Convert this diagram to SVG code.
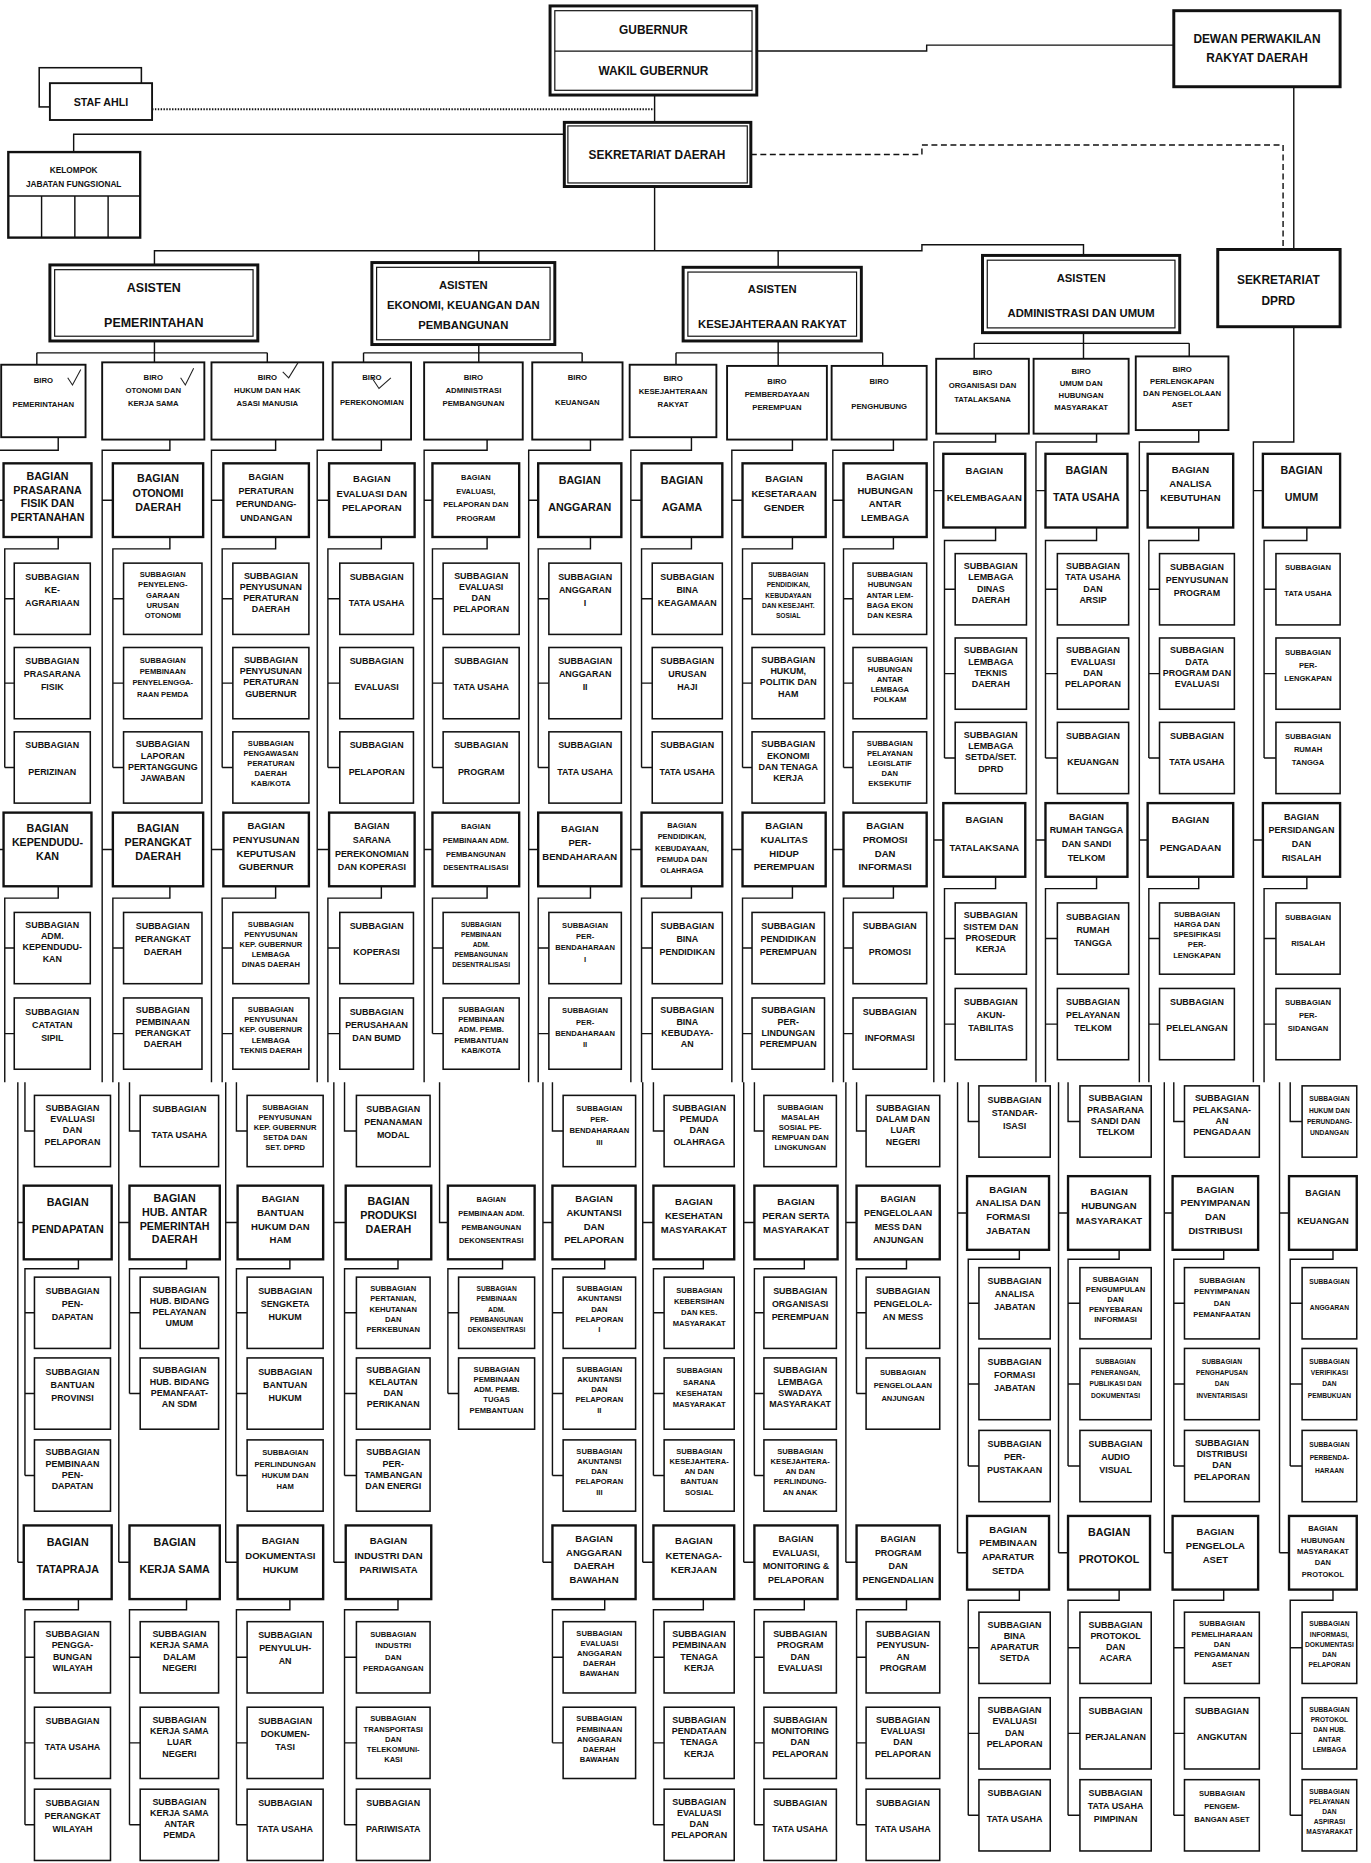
<svg xmlns="http://www.w3.org/2000/svg" width="1371" height="1863" viewBox="0 0 1371 1863">
<style>
text{font-family:"Liberation Sans Narrow","Liberation Sans",Arial,sans-serif;font-weight:bold;fill:#111;text-anchor:middle}
.t{font-size:10px}.a{font-size:10.5px}.a2{font-size:9.5px}.k{font-size:7px}.k9{font-size:9px}.r{font-size:6.5px}
.b{font-size:9px}.b8{font-size:8px}.b7{font-size:7.5px}.b6{font-size:6.3px}
.s{font-size:7.5px}.s5{font-size:6.4px}.s4{font-size:5.6px}
.dbl{fill:#fff;stroke:#111;stroke-width:2.5}
.th{fill:none;stroke:#111;stroke-width:1}
.bg{fill:#fff;stroke:#111;stroke-width:2}
.sb{fill:#fff;stroke:#111;stroke-width:1.3}
.br{fill:#fff;stroke:#111;stroke-width:1.6}
.ln{fill:none;stroke:#111;stroke-width:1.2}
.dot{fill:none;stroke:#111;stroke-width:1.6;stroke-dasharray:1.2 1.2}
.dash{fill:none;stroke:#111;stroke-width:1.2;stroke-dasharray:5 3}
.mk{fill:none;stroke:#222;stroke-width:0.9}
</style>
<rect x="0" y="0" width="1371" height="1863" fill="#fff"/>
<g transform="scale(1.18804)">
<g id="connectors">
<path class="ln" d="M637,43H780V38H988M551,80V103M475,113H62V128M1089,73V210M551,157V211M130,223V211H776V206H912V215M403,211V221M655,211V225"/>
<path class="ln" d="M130,287V305M31,297H225M31,297V307M225,297V305M403,290V305M306,297H490M306,297V305M490,297V305M655,287V308M569,297H743M569,297V307M743,297V308M912,280V302M820,289H1001M820,289V302M1001,289V300"/>
<path class="dot" d="M128,92H551"/>
<path class="dash" d="M632,130H776V122H1080V210"/>
<path class="ln" d="M49,368V379H-2V911M-2,421H3M-2,715H3M15,911V1315M15,1029H20M15,1315H20M49,452V462H4V646M4,504H12M4,575H12M4,646H12M49,746V756H4V911M4,798H12M4,870H12M21,911V952H29M66,1060V1068H21V1242M21,1105H29M21,1173H29M21,1242H29M66,1346V1355H21V1536M21,1395H29M21,1467H29M21,1536H29"/>
<path class="ln" d="M143,370V379H86V911M86,421H95M86,715H95M100,911V1315M100,1029H109M100,1315H109M143,452V462H95V646M95,504H104M95,575H104M95,646H104M143,746V756H95V911M95,798H104M95,870H104M109,911V952H118M157,1060V1068H109V1173M109,1105H118M109,1173H118M157,1346V1355H109V1536M109,1395H118M109,1467H118M109,1536H118"/>
<path class="ln" d="M232,370V379H178V911M178,421H188M178,715H188M190,911V1315M190,1029H200M190,1315H200M232,452V462H187V646M187,504H196M187,575H196M187,646H196M232,746V756H187V911M187,798H196M187,870H196M199,911V952H208M244,1060V1068H199V1242M199,1105H208M199,1173H208M199,1242H208M244,1346V1355H199V1536M199,1395H208M199,1467H208M199,1536H208"/>
<path class="ln" d="M321,370V379H267V911M267,421H277M267,715H277M281,911V1315M281,1029H291M281,1315H291M321,452V462H276V646M276,504H286M276,575H286M276,646H286M321,746V756H276V911M276,798H286M276,870H286M290,911V952H300M335,1060V1068H290V1242M290,1105H300M290,1173H300M290,1242H300M335,1346V1355H290V1536M290,1395H300M290,1467H300M290,1536H300"/>
<path class="ln" d="M410,370V379H357V911M357,421H364M357,715H364M370,911V1029H377M410,452V462H364V646M364,504H373M364,575H373M364,646H373M410,746V756H364V870M364,798H373M364,870H373M423,1060V1068H377V1173M377,1105H386M377,1173H386"/>
<path class="ln" d="M497,370V379H445V911M445,421H453M445,715H453M457,911V1315M457,1029H465M457,1315H465M497,452V462H453V646M453,504H462M453,575H462M453,646H462M497,746V756H453V911M453,798H462M453,870H462M465,911V952H474M509,1060V1068H465V1242M465,1105H474M465,1173H474M465,1242H474M509,1346V1355H465V1467M465,1395H474M465,1467H474"/>
<path class="ln" d="M582,368V379H531V911M531,421H540M531,715H540M541,911V1315M541,1029H550M541,1315H550M582,452V462H540V646M540,504H549M540,575H549M540,646H549M582,746V756H540V911M540,798H549M540,870H549M550,911V952H559M592,1060V1068H550V1242M550,1105H559M550,1173H559M550,1242H559M592,1346V1355H550V1536M550,1395H559M550,1467H559M550,1536H559"/>
<path class="ln" d="M667,370V379H616V911M616,421H625M616,715H625M626,911V1315M626,1029H635M626,1315H635M667,452V462H625V646M625,504H633M625,575H633M625,646H633M667,746V756H625V911M625,798H633M625,870H633M635,911V952H643M677,1060V1068H635V1242M635,1105H643M635,1173H643M635,1242H643M677,1346V1355H635V1536M635,1395H643M635,1467H643M635,1536H643"/>
<path class="ln" d="M752,370V379H701V911M701,421H710M701,715H710M712,911V1315M712,1029H721M712,1315H721M752,452V462H710V646M710,504H718M710,575H718M710,646H718M752,746V756H710V911M710,798H718M710,870H718M721,911V952H729M763,1060V1068H721V1173M721,1105H729M721,1173H729M763,1346V1355H721V1536M721,1395H729M721,1467H729M721,1536H729"/>
<path class="ln" d="M838,365V372H786V911M786,413H794M786,707H794M806,911V1307M806,1021H814M806,1307H814M838,444V455H795V638M795,496H804M795,567H804M795,638H804M838,738V748H795V911M795,790H804M795,862H804M815,911V944H824M858,1052V1060H815V1234M815,1097H824M815,1165H824M815,1234H824M858,1338V1347H815V1528M815,1387H824M815,1459H824M815,1528H824"/>
<path class="ln" d="M923,365V372H872V911M872,413H880M872,707H880M891,911V1307M891,1021H899M891,1307H899M923,444V455H880V638M880,496H890M880,567H890M880,638H890M923,738V748H880V911M880,790H890M880,862H890M899,911V944H909M942,1052V1060H899V1234M899,1097H909M899,1165H909M899,1234H909M942,1338V1347H899V1528M899,1387H909M899,1459H909M899,1528H909"/>
<path class="ln" d="M1009,362V372H959V911M959,413H966M959,707H966M980,911V1307M980,1021H987M980,1307H987M1009,444V455H967V638M967,496H976M967,567H976M967,638H976M1009,738V748H967V911M967,790H976M967,862H976M988,911V944H997M1030,1052V1060H988V1234M988,1097H997M988,1165H997M988,1234H997M1030,1338V1347H988V1528M988,1387H997M988,1459H997M988,1528H997"/>
<path class="ln" d="M1089,275V372H1055V911M1055,413H1063M1055,707H1063M1077,911V1307M1077,1021H1085M1077,1307H1085M1100,444V455H1064V638M1064,496H1074M1064,567H1074M1064,638H1074M1100,738V748H1064V911M1064,790H1074M1064,862H1074M1086,911V944H1096M1122,1052V1060H1086V1234M1086,1097H1096M1086,1165H1096M1086,1234H1096M1122,1338V1347H1086V1528M1086,1387H1096M1086,1459H1096M1086,1528H1096"/>
</g>
<g id="gubernur"><rect class="dbl" x="463" y="5" width="174" height="75"/><rect class="th" x="467" y="9" width="166" height="67"/><line class="th" x1="467" y1="43" x2="633" y2="43"/><text class="t"><tspan x="550" y="29">GUBERNUR</tspan><tspan x="550" y="63">WAKIL GUBERNUR</tspan></text></g>
<g id="dprd"><rect class="dbl" x="988" y="9" width="140" height="64"/><text class="t"><tspan x="1058" y="36">DEWAN PERWAKILAN</tspan><tspan x="1058" y="52">RAKYAT DAERAH</tspan></text></g>
<g id="staf-ahli"><rect class="sb" x="33" y="57" width="86" height="33"/><rect class="br" x="42" y="70" width="86" height="31"/><text class="k9"><tspan x="85" y="89">STAF AHLI</tspan></text></g>
<g id="sekda"><rect class="dbl" x="475" y="103" width="157" height="54"/><rect class="th" x="478" y="106" width="151" height="48"/><text class="t"><tspan x="553" y="134">SEKRETARIAT DAERAH</tspan></text></g>
<g id="kelompok"><rect class="bg" x="7" y="128" width="111" height="72"/><path class="ln" d="M7,165H118M35,165V200M63,165V200M91,165V200"/><text class="k"><tspan x="62" y="146">KELOMPOK</tspan><tspan x="62" y="157">JABATAN FUNGSIONAL</tspan></text></g>
<g id="sekretariat-dprd"><rect class="dbl" x="1025" y="210" width="103" height="65"/><text class="t"><tspan x="1076" y="239">SEKRETARIAT</tspan><tspan x="1076" y="257">DPRD</tspan></text></g>
<g id="asisten-pemerintahan"><rect class="dbl" x="42" y="223" width="175" height="64"/><rect class="th" x="46" y="227" width="167" height="56"/><text class="a"><tspan x="129.5" y="246">ASISTEN</tspan><tspan x="129.5" y="275">PEMERINTAHAN</tspan></text></g>
<g id="asisten-ekonomi"><rect class="dbl" x="313" y="221" width="154" height="69"/><rect class="th" x="317" y="225" width="146" height="61"/><text class="a2"><tspan x="390" y="243">ASISTEN</tspan><tspan x="390" y="260">EKONOMI, KEUANGAN DAN</tspan><tspan x="390" y="277">PEMBANGUNAN</tspan></text></g>
<g id="asisten-kesra"><rect class="dbl" x="575" y="225" width="150" height="62"/><rect class="th" x="579" y="229" width="142" height="54"/><text class="a2"><tspan x="650" y="247">ASISTEN</tspan><tspan x="650" y="276">KESEJAHTERAAN RAKYAT</tspan></text></g>
<g id="asisten-administrasi"><rect class="dbl" x="827" y="215" width="166" height="65"/><rect class="th" x="831" y="219" width="158" height="57"/><text class="a2"><tspan x="910" y="237">ASISTEN</tspan><tspan x="910" y="267">ADMINISTRASI DAN UMUM</tspan></text></g>
<g id="biro-1"><rect class="br" x="1" y="307" width="71" height="61"/><text class="r"><tspan x="36.5" y="322">BIRO</tspan><tspan x="36.5" y="343">PEMERINTAHAN</tspan></text></g>
<g id="biro-2"><rect class="br" x="86" y="305" width="86" height="65"/><text class="r"><tspan x="129" y="320">BIRO</tspan><tspan x="129" y="331">OTONOMI DAN</tspan><tspan x="129" y="342">KERJA SAMA</tspan></text></g>
<g id="biro-3"><rect class="br" x="178" y="305" width="94" height="65"/><text class="r"><tspan x="225" y="320">BIRO</tspan><tspan x="225" y="331">HUKUM DAN HAK</tspan><tspan x="225" y="342">ASASI MANUSIA</tspan></text></g>
<g id="biro-4"><rect class="br" x="280" y="305" width="66" height="65"/><text class="r"><tspan x="313" y="320">BIRO</tspan><tspan x="313" y="341">PEREKONOMIAN</tspan></text></g>
<g id="biro-5"><rect class="br" x="357" y="305" width="83" height="65"/><text class="r"><tspan x="398.5" y="320">BIRO</tspan><tspan x="398.5" y="331">ADMINISTRASI</tspan><tspan x="398.5" y="342">PEMBANGUNAN</tspan></text></g>
<g id="biro-6"><rect class="br" x="448" y="305" width="76" height="65"/><text class="r"><tspan x="486" y="320">BIRO</tspan><tspan x="486" y="341">KEUANGAN</tspan></text></g>
<g id="biro-7"><rect class="br" x="530" y="307" width="73" height="61"/><text class="r"><tspan x="566.5" y="321">BIRO</tspan><tspan x="566.5" y="332">KESEJAHTERAAN</tspan><tspan x="566.5" y="343">RAKYAT</tspan></text></g>
<g id="biro-8"><rect class="br" x="612" y="308" width="84" height="62"/><text class="r"><tspan x="654" y="323">BIRO</tspan><tspan x="654" y="334">PEMBERDAYAAN</tspan><tspan x="654" y="345">PEREMPUAN</tspan></text></g>
<g id="biro-9"><rect class="br" x="700" y="308" width="80" height="62"/><text class="r"><tspan x="740" y="323">BIRO</tspan><tspan x="740" y="344">PENGHUBUNG</tspan></text></g>
<g id="biro-10"><rect class="br" x="788" y="302" width="78" height="63"/><text class="r"><tspan x="827" y="316">BIRO</tspan><tspan x="827" y="327">ORGANISASI DAN</tspan><tspan x="827" y="338">TATALAKSANA</tspan></text></g>
<g id="biro-11"><rect class="br" x="870" y="302" width="80" height="63"/><text class="r"><tspan x="910" y="315">BIRO</tspan><tspan x="910" y="325">UMUM DAN</tspan><tspan x="910" y="335">HUBUNGAN</tspan><tspan x="910" y="345">MASYARAKAT</tspan></text></g>
<g id="biro-12"><rect class="br" x="956" y="300" width="78" height="62"/><text class="r"><tspan x="995" y="313">BIRO</tspan><tspan x="995" y="323">PERLENGKAPAN</tspan><tspan x="995" y="333">DAN PENGELOLAAN</tspan><tspan x="995" y="343">ASET</tspan></text></g>
<g id="marks"><path class="mk" d="M57,318l4,6l7,-13M152,318l4,6l7,-14M238,313l5,5l8,-13M313,318l6,9l10,-9"/></g>

<g id="c1-bag-a"><rect class="bg" x="3" y="390" width="74" height="62"/><text class="b"><tspan x="40" y="404">BAGIAN</tspan><tspan x="40" y="415.5">PRASARANA</tspan><tspan x="40" y="427">FISIK DAN</tspan><tspan x="40" y="438.5">PERTANAHAN</tspan></text></g>
<g id="c1-a1"><rect class="sb" x="12" y="474" width="64" height="60"/><text class="s"><tspan x="44" y="488">SUBBAGIAN</tspan><tspan x="44" y="499">KE-</tspan><tspan x="44" y="510">AGRARIAAN</tspan></text></g>
<g id="c1-a2"><rect class="sb" x="12" y="545" width="64" height="60"/><text class="s"><tspan x="44" y="559">SUBBAGIAN</tspan><tspan x="44" y="570">PRASARANA</tspan><tspan x="44" y="581">FISIK</tspan></text></g>
<g id="c1-a3"><rect class="sb" x="12" y="616" width="64" height="60"/><text class="s"><tspan x="44" y="630">SUBBAGIAN</tspan><tspan x="44" y="652">PERIZINAN</tspan></text></g>
<g id="c1-bag-b"><rect class="bg" x="3" y="684" width="74" height="62"/><text class="b"><tspan x="40" y="700">BAGIAN</tspan><tspan x="40" y="712">KEPENDUDU-</tspan><tspan x="40" y="724">KAN</tspan></text></g>
<g id="c1-b1"><rect class="sb" x="12" y="768" width="64" height="60"/><text class="s"><tspan x="44" y="781">SUBBAGIAN</tspan><tspan x="44" y="790.5">ADM.</tspan><tspan x="44" y="800">KEPENDUDU-</tspan><tspan x="44" y="809.5">KAN</tspan></text></g>
<g id="c1-b2"><rect class="sb" x="12" y="840" width="64" height="60"/><text class="s"><tspan x="44" y="854">SUBBAGIAN</tspan><tspan x="44" y="865">CATATAN</tspan><tspan x="44" y="876">SIPIL</tspan></text></g>
<g id="c1-b3"><rect class="sb" x="29" y="922" width="64" height="60"/><text class="s"><tspan x="61" y="935">SUBBAGIAN</tspan><tspan x="61" y="944.5">EVALUASI</tspan><tspan x="61" y="954">DAN</tspan><tspan x="61" y="963.5">PELAPORAN</tspan></text></g>
<g id="c1-bag-c"><rect class="bg" x="20" y="998" width="74" height="62"/><text class="b"><tspan x="57" y="1015">BAGIAN</tspan><tspan x="57" y="1038">PENDAPATAN</tspan></text></g>
<g id="c1-c1"><rect class="sb" x="29" y="1075" width="64" height="60"/><text class="s"><tspan x="61" y="1089">SUBBAGIAN</tspan><tspan x="61" y="1100">PEN-</tspan><tspan x="61" y="1111">DAPATAN</tspan></text></g>
<g id="c1-c2"><rect class="sb" x="29" y="1143" width="64" height="60"/><text class="s"><tspan x="61" y="1157">SUBBAGIAN</tspan><tspan x="61" y="1168">BANTUAN</tspan><tspan x="61" y="1179">PROVINSI</tspan></text></g>
<g id="c1-c3"><rect class="sb" x="29" y="1212" width="64" height="60"/><text class="s"><tspan x="61" y="1225">SUBBAGIAN</tspan><tspan x="61" y="1234.5">PEMBINAAN</tspan><tspan x="61" y="1244">PEN-</tspan><tspan x="61" y="1253.5">DAPATAN</tspan></text></g>
<g id="c1-bag-d"><rect class="bg" x="20" y="1284" width="74" height="62"/><text class="b"><tspan x="57" y="1301">BAGIAN</tspan><tspan x="57" y="1324">TATAPRAJA</tspan></text></g>
<g id="c1-d1"><rect class="sb" x="29" y="1365" width="64" height="60"/><text class="s"><tspan x="61" y="1378">SUBBAGIAN</tspan><tspan x="61" y="1387.5">PENGGA-</tspan><tspan x="61" y="1397">BUNGAN</tspan><tspan x="61" y="1406.5">WILAYAH</tspan></text></g>
<g id="c1-d2"><rect class="sb" x="29" y="1437" width="64" height="60"/><text class="s"><tspan x="61" y="1451">SUBBAGIAN</tspan><tspan x="61" y="1473">TATA USAHA</tspan></text></g>
<g id="c1-d3"><rect class="sb" x="29" y="1506" width="64" height="60"/><text class="s"><tspan x="61" y="1520">SUBBAGIAN</tspan><tspan x="61" y="1531">PERANGKAT</tspan><tspan x="61" y="1542">WILAYAH</tspan></text></g>

<g id="c2-bag-a"><rect class="bg" x="95" y="390" width="76" height="62"/><text class="b"><tspan x="133" y="406">BAGIAN</tspan><tspan x="133" y="418">OTONOMI</tspan><tspan x="133" y="430">DAERAH</tspan></text></g>
<g id="c2-a1"><rect class="sb" x="104" y="474" width="66" height="60"/><text class="s5"><tspan x="137" y="486">SUBBAGIAN</tspan><tspan x="137" y="494.5">PENYELENG-</tspan><tspan x="137" y="503">GARAAN</tspan><tspan x="137" y="511.5">URUSAN</tspan><tspan x="137" y="520">OTONOMI</tspan></text></g>
<g id="c2-a2"><rect class="sb" x="104" y="545" width="66" height="60"/><text class="s5"><tspan x="137" y="558">SUBBAGIAN</tspan><tspan x="137" y="567.5">PEMBINAAN</tspan><tspan x="137" y="577">PENYELENGGA-</tspan><tspan x="137" y="586.5">RAAN PEMDA</tspan></text></g>
<g id="c2-a3"><rect class="sb" x="104" y="616" width="66" height="60"/><text class="s"><tspan x="137" y="629">SUBBAGIAN</tspan><tspan x="137" y="638.5">LAPORAN</tspan><tspan x="137" y="648">PERTANGGUNG</tspan><tspan x="137" y="657.5">JAWABAN</tspan></text></g>
<g id="c2-bag-b"><rect class="bg" x="95" y="684" width="76" height="62"/><text class="b"><tspan x="133" y="700">BAGIAN</tspan><tspan x="133" y="712">PERANGKAT</tspan><tspan x="133" y="724">DAERAH</tspan></text></g>
<g id="c2-b1"><rect class="sb" x="104" y="768" width="66" height="60"/><text class="s"><tspan x="137" y="782">SUBBAGIAN</tspan><tspan x="137" y="793">PERANGKAT</tspan><tspan x="137" y="804">DAERAH</tspan></text></g>
<g id="c2-b2"><rect class="sb" x="104" y="840" width="66" height="60"/><text class="s"><tspan x="137" y="853">SUBBAGIAN</tspan><tspan x="137" y="862.5">PEMBINAAN</tspan><tspan x="137" y="872">PERANGKAT</tspan><tspan x="137" y="881.5">DAERAH</tspan></text></g>
<g id="c2-b3"><rect class="sb" x="118" y="922" width="66" height="60"/><text class="s"><tspan x="151" y="936">SUBBAGIAN</tspan><tspan x="151" y="958">TATA USAHA</tspan></text></g>
<g id="c2-bag-c"><rect class="bg" x="109" y="998" width="76" height="62"/><text class="b"><tspan x="147" y="1012">BAGIAN</tspan><tspan x="147" y="1023.5">HUB. ANTAR</tspan><tspan x="147" y="1035">PEMERINTAH</tspan><tspan x="147" y="1046.5">DAERAH</tspan></text></g>
<g id="c2-c1"><rect class="sb" x="118" y="1075" width="66" height="60"/><text class="s"><tspan x="151" y="1088">SUBBAGIAN</tspan><tspan x="151" y="1097.5">HUB. BIDANG</tspan><tspan x="151" y="1107">PELAYANAN</tspan><tspan x="151" y="1116.5">UMUM</tspan></text></g>
<g id="c2-c2"><rect class="sb" x="118" y="1143" width="66" height="60"/><text class="s"><tspan x="151" y="1156">SUBBAGIAN</tspan><tspan x="151" y="1165.5">HUB. BIDANG</tspan><tspan x="151" y="1175">PEMANFAAT-</tspan><tspan x="151" y="1184.5">AN SDM</tspan></text></g>
<g id="c2-bag-d"><rect class="bg" x="109" y="1284" width="76" height="62"/><text class="b"><tspan x="147" y="1301">BAGIAN</tspan><tspan x="147" y="1324">KERJA SAMA</tspan></text></g>
<g id="c2-d1"><rect class="sb" x="118" y="1365" width="66" height="60"/><text class="s"><tspan x="151" y="1378">SUBBAGIAN</tspan><tspan x="151" y="1387.5">KERJA SAMA</tspan><tspan x="151" y="1397">DALAM</tspan><tspan x="151" y="1406.5">NEGERI</tspan></text></g>
<g id="c2-d2"><rect class="sb" x="118" y="1437" width="66" height="60"/><text class="s"><tspan x="151" y="1450">SUBBAGIAN</tspan><tspan x="151" y="1459.5">KERJA SAMA</tspan><tspan x="151" y="1469">LUAR</tspan><tspan x="151" y="1478.5">NEGERI</tspan></text></g>
<g id="c2-d3"><rect class="sb" x="118" y="1506" width="66" height="60"/><text class="s"><tspan x="151" y="1519">SUBBAGIAN</tspan><tspan x="151" y="1528.5">KERJA SAMA</tspan><tspan x="151" y="1538">ANTAR</tspan><tspan x="151" y="1547.5">PEMDA</tspan></text></g>

<g id="c3-bag-a"><rect class="bg" x="188" y="390" width="72" height="62"/><text class="b7"><tspan x="224" y="404">BAGIAN</tspan><tspan x="224" y="415.5">PERATURAN</tspan><tspan x="224" y="427">PERUNDANG-</tspan><tspan x="224" y="438.5">UNDANGAN</tspan></text></g>
<g id="c3-a1"><rect class="sb" x="196" y="474" width="64" height="60"/><text class="s"><tspan x="228" y="487">SUBBAGIAN</tspan><tspan x="228" y="496.5">PENYUSUNAN</tspan><tspan x="228" y="506">PERATURAN</tspan><tspan x="228" y="515.5">DAERAH</tspan></text></g>
<g id="c3-a2"><rect class="sb" x="196" y="545" width="64" height="60"/><text class="s"><tspan x="228" y="558">SUBBAGIAN</tspan><tspan x="228" y="567.5">PENYUSUNAN</tspan><tspan x="228" y="577">PERATURAN</tspan><tspan x="228" y="586.5">GUBERNUR</tspan></text></g>
<g id="c3-a3"><rect class="sb" x="196" y="616" width="64" height="60"/><text class="s5"><tspan x="228" y="628">SUBBAGIAN</tspan><tspan x="228" y="636.5">PENGAWASAN</tspan><tspan x="228" y="645">PERATURAN</tspan><tspan x="228" y="653.5">DAERAH</tspan><tspan x="228" y="662">KAB/KOTA</tspan></text></g>
<g id="c3-bag-b"><rect class="bg" x="188" y="684" width="72" height="62"/><text class="b8"><tspan x="224" y="698">BAGIAN</tspan><tspan x="224" y="709.5">PENYUSUNAN</tspan><tspan x="224" y="721">KEPUTUSAN</tspan><tspan x="224" y="732.5">GUBERNUR</tspan></text></g>
<g id="c3-b1"><rect class="sb" x="196" y="768" width="64" height="60"/><text class="s5"><tspan x="228" y="780">SUBBAGIAN</tspan><tspan x="228" y="788.5">PENYUSUNAN</tspan><tspan x="228" y="797">KEP. GUBERNUR</tspan><tspan x="228" y="805.5">LEMBAGA</tspan><tspan x="228" y="814">DINAS DAERAH</tspan></text></g>
<g id="c3-b2"><rect class="sb" x="196" y="840" width="64" height="60"/><text class="s5"><tspan x="228" y="852">SUBBAGIAN</tspan><tspan x="228" y="860.5">PENYUSUNAN</tspan><tspan x="228" y="869">KEP. GUBERNUR</tspan><tspan x="228" y="877.5">LEMBAGA</tspan><tspan x="228" y="886">TEKNIS DAERAH</tspan></text></g>
<g id="c3-b3"><rect class="sb" x="208" y="922" width="64" height="60"/><text class="s5"><tspan x="240" y="934">SUBBAGIAN</tspan><tspan x="240" y="942.5">PENYUSUNAN</tspan><tspan x="240" y="951">KEP. GUBERNUR</tspan><tspan x="240" y="959.5">SETDA DAN</tspan><tspan x="240" y="968">SET. DPRD</tspan></text></g>
<g id="c3-bag-c"><rect class="bg" x="200" y="998" width="72" height="62"/><text class="b8"><tspan x="236" y="1012">BAGIAN</tspan><tspan x="236" y="1023.5">BANTUAN</tspan><tspan x="236" y="1035">HUKUM DAN</tspan><tspan x="236" y="1046.5">HAM</tspan></text></g>
<g id="c3-c1"><rect class="sb" x="208" y="1075" width="64" height="60"/><text class="s"><tspan x="240" y="1089">SUBBAGIAN</tspan><tspan x="240" y="1100">SENGKETA</tspan><tspan x="240" y="1111">HUKUM</tspan></text></g>
<g id="c3-c2"><rect class="sb" x="208" y="1143" width="64" height="60"/><text class="s"><tspan x="240" y="1157">SUBBAGIAN</tspan><tspan x="240" y="1168">BANTUAN</tspan><tspan x="240" y="1179">HUKUM</tspan></text></g>
<g id="c3-c3"><rect class="sb" x="208" y="1212" width="64" height="60"/><text class="s5"><tspan x="240" y="1225">SUBBAGIAN</tspan><tspan x="240" y="1234.5">PERLINDUNGAN</tspan><tspan x="240" y="1244">HUKUM DAN</tspan><tspan x="240" y="1253.5">HAM</tspan></text></g>
<g id="c3-bag-d"><rect class="bg" x="200" y="1284" width="72" height="62"/><text class="b8"><tspan x="236" y="1300">BAGIAN</tspan><tspan x="236" y="1312">DOKUMENTASI</tspan><tspan x="236" y="1324">HUKUM</tspan></text></g>
<g id="c3-d1"><rect class="sb" x="208" y="1365" width="64" height="60"/><text class="s"><tspan x="240" y="1379">SUBBAGIAN</tspan><tspan x="240" y="1390">PENYULUH-</tspan><tspan x="240" y="1401">AN</tspan></text></g>
<g id="c3-d2"><rect class="sb" x="208" y="1437" width="64" height="60"/><text class="s"><tspan x="240" y="1451">SUBBAGIAN</tspan><tspan x="240" y="1462">DOKUMEN-</tspan><tspan x="240" y="1473">TASI</tspan></text></g>
<g id="c3-d3"><rect class="sb" x="208" y="1506" width="64" height="60"/><text class="s"><tspan x="240" y="1520">SUBBAGIAN</tspan><tspan x="240" y="1542">TATA USAHA</tspan></text></g>

<g id="c4-bag-a"><rect class="bg" x="277" y="390" width="72" height="62"/><text class="b8"><tspan x="313" y="406">BAGIAN</tspan><tspan x="313" y="418">EVALUASI DAN</tspan><tspan x="313" y="430">PELAPORAN</tspan></text></g>
<g id="c4-a1"><rect class="sb" x="286" y="474" width="62" height="60"/><text class="s"><tspan x="317" y="488">SUBBAGIAN</tspan><tspan x="317" y="510">TATA USAHA</tspan></text></g>
<g id="c4-a2"><rect class="sb" x="286" y="545" width="62" height="60"/><text class="s"><tspan x="317" y="559">SUBBAGIAN</tspan><tspan x="317" y="581">EVALUASI</tspan></text></g>
<g id="c4-a3"><rect class="sb" x="286" y="616" width="62" height="60"/><text class="s"><tspan x="317" y="630">SUBBAGIAN</tspan><tspan x="317" y="652">PELAPORAN</tspan></text></g>
<g id="c4-bag-b"><rect class="bg" x="277" y="684" width="72" height="62"/><text class="b7"><tspan x="313" y="698">BAGIAN</tspan><tspan x="313" y="709.5">SARANA</tspan><tspan x="313" y="721">PEREKONOMIAN</tspan><tspan x="313" y="732.5">DAN KOPERASI</tspan></text></g>
<g id="c4-b1"><rect class="sb" x="286" y="768" width="62" height="60"/><text class="s"><tspan x="317" y="782">SUBBAGIAN</tspan><tspan x="317" y="804">KOPERASI</tspan></text></g>
<g id="c4-b2"><rect class="sb" x="286" y="840" width="62" height="60"/><text class="s"><tspan x="317" y="854">SUBBAGIAN</tspan><tspan x="317" y="865">PERUSAHAAN</tspan><tspan x="317" y="876">DAN BUMD</tspan></text></g>
<g id="c4-b3"><rect class="sb" x="300" y="922" width="62" height="60"/><text class="s"><tspan x="331" y="936">SUBBAGIAN</tspan><tspan x="331" y="947">PENANAMAN</tspan><tspan x="331" y="958">MODAL</tspan></text></g>
<g id="c4-bag-c"><rect class="bg" x="291" y="998" width="72" height="62"/><text class="b"><tspan x="327" y="1014">BAGIAN</tspan><tspan x="327" y="1026">PRODUKSI</tspan><tspan x="327" y="1038">DAERAH</tspan></text></g>
<g id="c4-c1"><rect class="sb" x="300" y="1075" width="62" height="60"/><text class="s5"><tspan x="331" y="1087">SUBBAGIAN</tspan><tspan x="331" y="1095.5">PERTANIAN,</tspan><tspan x="331" y="1104">KEHUTANAN</tspan><tspan x="331" y="1112.5">DAN</tspan><tspan x="331" y="1121">PERKEBUNAN</tspan></text></g>
<g id="c4-c2"><rect class="sb" x="300" y="1143" width="62" height="60"/><text class="s"><tspan x="331" y="1156">SUBBAGIAN</tspan><tspan x="331" y="1165.5">KELAUTAN</tspan><tspan x="331" y="1175">DAN</tspan><tspan x="331" y="1184.5">PERIKANAN</tspan></text></g>
<g id="c4-c3"><rect class="sb" x="300" y="1212" width="62" height="60"/><text class="s"><tspan x="331" y="1225">SUBBAGIAN</tspan><tspan x="331" y="1234.5">PER-</tspan><tspan x="331" y="1244">TAMBANGAN</tspan><tspan x="331" y="1253.5">DAN ENERGI</tspan></text></g>
<g id="c4-bag-d"><rect class="bg" x="291" y="1284" width="72" height="62"/><text class="b8"><tspan x="327" y="1300">BAGIAN</tspan><tspan x="327" y="1312">INDUSTRI DAN</tspan><tspan x="327" y="1324">PARIWISATA</tspan></text></g>
<g id="c4-d1"><rect class="sb" x="300" y="1365" width="62" height="60"/><text class="s5"><tspan x="331" y="1378">SUBBAGIAN</tspan><tspan x="331" y="1387.5">INDUSTRI</tspan><tspan x="331" y="1397">DAN</tspan><tspan x="331" y="1406.5">PERDAGANGAN</tspan></text></g>
<g id="c4-d2"><rect class="sb" x="300" y="1437" width="62" height="60"/><text class="s5"><tspan x="331" y="1449">SUBBAGIAN</tspan><tspan x="331" y="1457.5">TRANSPORTASI</tspan><tspan x="331" y="1466">DAN</tspan><tspan x="331" y="1474.5">TELEKOMUNI-</tspan><tspan x="331" y="1483">KASI</tspan></text></g>
<g id="c4-d3"><rect class="sb" x="300" y="1506" width="62" height="60"/><text class="s"><tspan x="331" y="1520">SUBBAGIAN</tspan><tspan x="331" y="1542">PARIWISATA</tspan></text></g>

<g id="c5-bag-a"><rect class="bg" x="364" y="390" width="73" height="62"/><text class="b6"><tspan x="400.5" y="404">BAGIAN</tspan><tspan x="400.5" y="415.5">EVALUASI,</tspan><tspan x="400.5" y="427">PELAPORAN DAN</tspan><tspan x="400.5" y="438.5">PROGRAM</tspan></text></g>
<g id="c5-a1"><rect class="sb" x="373" y="474" width="64" height="60"/><text class="s"><tspan x="405" y="487">SUBBAGIAN</tspan><tspan x="405" y="496.5">EVALUASI</tspan><tspan x="405" y="506">DAN</tspan><tspan x="405" y="515.5">PELAPORAN</tspan></text></g>
<g id="c5-a2"><rect class="sb" x="373" y="545" width="64" height="60"/><text class="s"><tspan x="405" y="559">SUBBAGIAN</tspan><tspan x="405" y="581">TATA USAHA</tspan></text></g>
<g id="c5-a3"><rect class="sb" x="373" y="616" width="64" height="60"/><text class="s"><tspan x="405" y="630">SUBBAGIAN</tspan><tspan x="405" y="652">PROGRAM</tspan></text></g>
<g id="c5-bag-b"><rect class="bg" x="364" y="684" width="73" height="62"/><text class="b6"><tspan x="400.5" y="698">BAGIAN</tspan><tspan x="400.5" y="709.5">PEMBINAAN ADM.</tspan><tspan x="400.5" y="721">PEMBANGUNAN</tspan><tspan x="400.5" y="732.5">DESENTRALISASI</tspan></text></g>
<g id="c5-b1"><rect class="sb" x="373" y="768" width="64" height="60"/><text class="s4"><tspan x="405" y="780">SUBBAGIAN</tspan><tspan x="405" y="788.5">PEMBINAAN</tspan><tspan x="405" y="797">ADM.</tspan><tspan x="405" y="805.5">PEMBANGUNAN</tspan><tspan x="405" y="814">DESENTRALISASI</tspan></text></g>
<g id="c5-b2"><rect class="sb" x="373" y="840" width="64" height="60"/><text class="s5"><tspan x="405" y="852">SUBBAGIAN</tspan><tspan x="405" y="860.5">PEMBINAAN</tspan><tspan x="405" y="869">ADM. PEMB.</tspan><tspan x="405" y="877.5">PEMBANTUAN</tspan><tspan x="405" y="886">KAB/KOTA</tspan></text></g>
<g id="c5-bag-c"><rect class="bg" x="377" y="998" width="73" height="62"/><text class="b6"><tspan x="413.5" y="1012">BAGIAN</tspan><tspan x="413.5" y="1023.5">PEMBINAAN ADM.</tspan><tspan x="413.5" y="1035">PEMBANGUNAN</tspan><tspan x="413.5" y="1046.5">DEKONSENTRASI</tspan></text></g>
<g id="c5-c1"><rect class="sb" x="386" y="1075" width="64" height="60"/><text class="s4"><tspan x="418" y="1087">SUBBAGIAN</tspan><tspan x="418" y="1095.5">PEMBINAAN</tspan><tspan x="418" y="1104">ADM.</tspan><tspan x="418" y="1112.5">PEMBANGUNAN</tspan><tspan x="418" y="1121">DEKONSENTRASI</tspan></text></g>
<g id="c5-c2"><rect class="sb" x="386" y="1143" width="64" height="60"/><text class="s5"><tspan x="418" y="1155">SUBBAGIAN</tspan><tspan x="418" y="1163.5">PEMBINAAN</tspan><tspan x="418" y="1172">ADM. PEMB.</tspan><tspan x="418" y="1180.5">TUGAS</tspan><tspan x="418" y="1189">PEMBANTUAN</tspan></text></g>

<g id="c6-bag-a"><rect class="bg" x="453" y="390" width="70" height="62"/><text class="b"><tspan x="488" y="407">BAGIAN</tspan><tspan x="488" y="430">ANGGARAN</tspan></text></g>
<g id="c6-a1"><rect class="sb" x="462" y="474" width="61" height="60"/><text class="s"><tspan x="492.5" y="488">SUBBAGIAN</tspan><tspan x="492.5" y="499">ANGGARAN</tspan><tspan x="492.5" y="510">I</tspan></text></g>
<g id="c6-a2"><rect class="sb" x="462" y="545" width="61" height="60"/><text class="s"><tspan x="492.5" y="559">SUBBAGIAN</tspan><tspan x="492.5" y="570">ANGGARAN</tspan><tspan x="492.5" y="581">II</tspan></text></g>
<g id="c6-a3"><rect class="sb" x="462" y="616" width="61" height="60"/><text class="s"><tspan x="492.5" y="630">SUBBAGIAN</tspan><tspan x="492.5" y="652">TATA USAHA</tspan></text></g>
<g id="c6-bag-b"><rect class="bg" x="453" y="684" width="70" height="62"/><text class="b8"><tspan x="488" y="700">BAGIAN</tspan><tspan x="488" y="712">PER-</tspan><tspan x="488" y="724">BENDAHARAAN</tspan></text></g>
<g id="c6-b1"><rect class="sb" x="462" y="768" width="61" height="60"/><text class="s5"><tspan x="492.5" y="781">SUBBAGIAN</tspan><tspan x="492.5" y="790.5">PER-</tspan><tspan x="492.5" y="800">BENDAHARAAN</tspan><tspan x="492.5" y="809.5">I</tspan></text></g>
<g id="c6-b2"><rect class="sb" x="462" y="840" width="61" height="60"/><text class="s5"><tspan x="492.5" y="853">SUBBAGIAN</tspan><tspan x="492.5" y="862.5">PER-</tspan><tspan x="492.5" y="872">BENDAHARAAN</tspan><tspan x="492.5" y="881.5">II</tspan></text></g>
<g id="c6-b3"><rect class="sb" x="474" y="922" width="61" height="60"/><text class="s5"><tspan x="504.5" y="935">SUBBAGIAN</tspan><tspan x="504.5" y="944.5">PER-</tspan><tspan x="504.5" y="954">BENDAHARAAN</tspan><tspan x="504.5" y="963.5">III</tspan></text></g>
<g id="c6-bag-c"><rect class="bg" x="465" y="998" width="70" height="62"/><text class="b8"><tspan x="500" y="1012">BAGIAN</tspan><tspan x="500" y="1023.5">AKUNTANSI</tspan><tspan x="500" y="1035">DAN</tspan><tspan x="500" y="1046.5">PELAPORAN</tspan></text></g>
<g id="c6-c1"><rect class="sb" x="474" y="1075" width="61" height="60"/><text class="s5"><tspan x="504.5" y="1087">SUBBAGIAN</tspan><tspan x="504.5" y="1095.5">AKUNTANSI</tspan><tspan x="504.5" y="1104">DAN</tspan><tspan x="504.5" y="1112.5">PELAPORAN</tspan><tspan x="504.5" y="1121">I</tspan></text></g>
<g id="c6-c2"><rect class="sb" x="474" y="1143" width="61" height="60"/><text class="s5"><tspan x="504.5" y="1155">SUBBAGIAN</tspan><tspan x="504.5" y="1163.5">AKUNTANSI</tspan><tspan x="504.5" y="1172">DAN</tspan><tspan x="504.5" y="1180.5">PELAPORAN</tspan><tspan x="504.5" y="1189">II</tspan></text></g>
<g id="c6-c3"><rect class="sb" x="474" y="1212" width="61" height="60"/><text class="s5"><tspan x="504.5" y="1224">SUBBAGIAN</tspan><tspan x="504.5" y="1232.5">AKUNTANSI</tspan><tspan x="504.5" y="1241">DAN</tspan><tspan x="504.5" y="1249.5">PELAPORAN</tspan><tspan x="504.5" y="1258">III</tspan></text></g>
<g id="c6-bag-d"><rect class="bg" x="465" y="1284" width="70" height="62"/><text class="b8"><tspan x="500" y="1298">BAGIAN</tspan><tspan x="500" y="1309.5">ANGGARAN</tspan><tspan x="500" y="1321">DAERAH</tspan><tspan x="500" y="1332.5">BAWAHAN</tspan></text></g>
<g id="c6-d1"><rect class="sb" x="474" y="1365" width="61" height="60"/><text class="s5"><tspan x="504.5" y="1377">SUBBAGIAN</tspan><tspan x="504.5" y="1385.5">EVALUASI</tspan><tspan x="504.5" y="1394">ANGGARAN</tspan><tspan x="504.5" y="1402.5">DAERAH</tspan><tspan x="504.5" y="1411">BAWAHAN</tspan></text></g>
<g id="c6-d2"><rect class="sb" x="474" y="1437" width="61" height="60"/><text class="s5"><tspan x="504.5" y="1449">SUBBAGIAN</tspan><tspan x="504.5" y="1457.5">PEMBINAAN</tspan><tspan x="504.5" y="1466">ANGGARAN</tspan><tspan x="504.5" y="1474.5">DAERAH</tspan><tspan x="504.5" y="1483">BAWAHAN</tspan></text></g>

<g id="c7-bag-a"><rect class="bg" x="540" y="390" width="68" height="62"/><text class="b"><tspan x="574" y="407">BAGIAN</tspan><tspan x="574" y="430">AGAMA</tspan></text></g>
<g id="c7-a1"><rect class="sb" x="549" y="474" width="59" height="60"/><text class="s"><tspan x="578.5" y="488">SUBBAGIAN</tspan><tspan x="578.5" y="499">BINA</tspan><tspan x="578.5" y="510">KEAGAMAAN</tspan></text></g>
<g id="c7-a2"><rect class="sb" x="549" y="545" width="59" height="60"/><text class="s"><tspan x="578.5" y="559">SUBBAGIAN</tspan><tspan x="578.5" y="570">URUSAN</tspan><tspan x="578.5" y="581">HAJI</tspan></text></g>
<g id="c7-a3"><rect class="sb" x="549" y="616" width="59" height="60"/><text class="s"><tspan x="578.5" y="630">SUBBAGIAN</tspan><tspan x="578.5" y="652">TATA USAHA</tspan></text></g>
<g id="c7-bag-b"><rect class="bg" x="540" y="684" width="68" height="62"/><text class="b6"><tspan x="574" y="697">BAGIAN</tspan><tspan x="574" y="706.5">PENDIDIKAN,</tspan><tspan x="574" y="716">KEBUDAYAAN,</tspan><tspan x="574" y="725.5">PEMUDA DAN</tspan><tspan x="574" y="735">OLAHRAGA</tspan></text></g>
<g id="c7-b1"><rect class="sb" x="549" y="768" width="59" height="60"/><text class="s"><tspan x="578.5" y="782">SUBBAGIAN</tspan><tspan x="578.5" y="793">BINA</tspan><tspan x="578.5" y="804">PENDIDIKAN</tspan></text></g>
<g id="c7-b2"><rect class="sb" x="549" y="840" width="59" height="60"/><text class="s"><tspan x="578.5" y="853">SUBBAGIAN</tspan><tspan x="578.5" y="862.5">BINA</tspan><tspan x="578.5" y="872">KEBUDAYA-</tspan><tspan x="578.5" y="881.5">AN</tspan></text></g>
<g id="c7-b3"><rect class="sb" x="559" y="922" width="59" height="60"/><text class="s"><tspan x="588.5" y="935">SUBBAGIAN</tspan><tspan x="588.5" y="944.5">PEMUDA</tspan><tspan x="588.5" y="954">DAN</tspan><tspan x="588.5" y="963.5">OLAHRAGA</tspan></text></g>
<g id="c7-bag-c"><rect class="bg" x="550" y="998" width="68" height="62"/><text class="b8"><tspan x="584" y="1014">BAGIAN</tspan><tspan x="584" y="1026">KESEHATAN</tspan><tspan x="584" y="1038">MASYARAKAT</tspan></text></g>
<g id="c7-c1"><rect class="sb" x="559" y="1075" width="59" height="60"/><text class="s5"><tspan x="588.5" y="1088">SUBBAGIAN</tspan><tspan x="588.5" y="1097.5">KEBERSIHAN</tspan><tspan x="588.5" y="1107">DAN KES.</tspan><tspan x="588.5" y="1116.5">MASYARAKAT</tspan></text></g>
<g id="c7-c2"><rect class="sb" x="559" y="1143" width="59" height="60"/><text class="s5"><tspan x="588.5" y="1156">SUBBAGIAN</tspan><tspan x="588.5" y="1165.5">SARANA</tspan><tspan x="588.5" y="1175">KESEHATAN</tspan><tspan x="588.5" y="1184.5">MASYARAKAT</tspan></text></g>
<g id="c7-c3"><rect class="sb" x="559" y="1212" width="59" height="60"/><text class="s5"><tspan x="588.5" y="1224">SUBBAGIAN</tspan><tspan x="588.5" y="1232.5">KESEJAHTERA-</tspan><tspan x="588.5" y="1241">AN DAN</tspan><tspan x="588.5" y="1249.5">BANTUAN</tspan><tspan x="588.5" y="1258">SOSIAL</tspan></text></g>
<g id="c7-bag-d"><rect class="bg" x="550" y="1284" width="68" height="62"/><text class="b8"><tspan x="584" y="1300">BAGIAN</tspan><tspan x="584" y="1312">KETENAGA-</tspan><tspan x="584" y="1324">KERJAAN</tspan></text></g>
<g id="c7-d1"><rect class="sb" x="559" y="1365" width="59" height="60"/><text class="s"><tspan x="588.5" y="1378">SUBBAGIAN</tspan><tspan x="588.5" y="1387.5">PEMBINAAN</tspan><tspan x="588.5" y="1397">TENAGA</tspan><tspan x="588.5" y="1406.5">KERJA</tspan></text></g>
<g id="c7-d2"><rect class="sb" x="559" y="1437" width="59" height="60"/><text class="s"><tspan x="588.5" y="1450">SUBBAGIAN</tspan><tspan x="588.5" y="1459.5">PENDATAAN</tspan><tspan x="588.5" y="1469">TENAGA</tspan><tspan x="588.5" y="1478.5">KERJA</tspan></text></g>
<g id="c7-d3"><rect class="sb" x="559" y="1506" width="59" height="60"/><text class="s"><tspan x="588.5" y="1519">SUBBAGIAN</tspan><tspan x="588.5" y="1528.5">EVALUASI</tspan><tspan x="588.5" y="1538">DAN</tspan><tspan x="588.5" y="1547.5">PELAPORAN</tspan></text></g>

<g id="c8-bag-a"><rect class="bg" x="625" y="390" width="70" height="62"/><text class="b8"><tspan x="660" y="406">BAGIAN</tspan><tspan x="660" y="418">KESETARAAN</tspan><tspan x="660" y="430">GENDER</tspan></text></g>
<g id="c8-a1"><rect class="sb" x="633" y="474" width="61" height="60"/><text class="s4"><tspan x="663.5" y="486">SUBBAGIAN</tspan><tspan x="663.5" y="494.5">PENDIDIKAN,</tspan><tspan x="663.5" y="503">KEBUDAYAAN</tspan><tspan x="663.5" y="511.5">DAN KESEJAHT.</tspan><tspan x="663.5" y="520">SOSIAL</tspan></text></g>
<g id="c8-a2"><rect class="sb" x="633" y="545" width="61" height="60"/><text class="s"><tspan x="663.5" y="558">SUBBAGIAN</tspan><tspan x="663.5" y="567.5">HUKUM,</tspan><tspan x="663.5" y="577">POLITIK DAN</tspan><tspan x="663.5" y="586.5">HAM</tspan></text></g>
<g id="c8-a3"><rect class="sb" x="633" y="616" width="61" height="60"/><text class="s"><tspan x="663.5" y="629">SUBBAGIAN</tspan><tspan x="663.5" y="638.5">EKONOMI</tspan><tspan x="663.5" y="648">DAN TENAGA</tspan><tspan x="663.5" y="657.5">KERJA</tspan></text></g>
<g id="c8-bag-b"><rect class="bg" x="625" y="684" width="70" height="62"/><text class="b8"><tspan x="660" y="698">BAGIAN</tspan><tspan x="660" y="709.5">KUALITAS</tspan><tspan x="660" y="721">HIDUP</tspan><tspan x="660" y="732.5">PEREMPUAN</tspan></text></g>
<g id="c8-b1"><rect class="sb" x="633" y="768" width="61" height="60"/><text class="s"><tspan x="663.5" y="782">SUBBAGIAN</tspan><tspan x="663.5" y="793">PENDIDIKAN</tspan><tspan x="663.5" y="804">PEREMPUAN</tspan></text></g>
<g id="c8-b2"><rect class="sb" x="633" y="840" width="61" height="60"/><text class="s"><tspan x="663.5" y="853">SUBBAGIAN</tspan><tspan x="663.5" y="862.5">PER-</tspan><tspan x="663.5" y="872">LINDUNGAN</tspan><tspan x="663.5" y="881.5">PEREMPUAN</tspan></text></g>
<g id="c8-b3"><rect class="sb" x="643" y="922" width="61" height="60"/><text class="s5"><tspan x="673.5" y="934">SUBBAGIAN</tspan><tspan x="673.5" y="942.5">MASALAH</tspan><tspan x="673.5" y="951">SOSIAL PE-</tspan><tspan x="673.5" y="959.5">REMPUAN DAN</tspan><tspan x="673.5" y="968">LINGKUNGAN</tspan></text></g>
<g id="c8-bag-c"><rect class="bg" x="635" y="998" width="70" height="62"/><text class="b8"><tspan x="670" y="1014">BAGIAN</tspan><tspan x="670" y="1026">PERAN SERTA</tspan><tspan x="670" y="1038">MASYARAKAT</tspan></text></g>
<g id="c8-c1"><rect class="sb" x="643" y="1075" width="61" height="60"/><text class="s"><tspan x="673.5" y="1089">SUBBAGIAN</tspan><tspan x="673.5" y="1100">ORGANISASI</tspan><tspan x="673.5" y="1111">PEREMPUAN</tspan></text></g>
<g id="c8-c2"><rect class="sb" x="643" y="1143" width="61" height="60"/><text class="s"><tspan x="673.5" y="1156">SUBBAGIAN</tspan><tspan x="673.5" y="1165.5">LEMBAGA</tspan><tspan x="673.5" y="1175">SWADAYA</tspan><tspan x="673.5" y="1184.5">MASYARAKAT</tspan></text></g>
<g id="c8-c3"><rect class="sb" x="643" y="1212" width="61" height="60"/><text class="s5"><tspan x="673.5" y="1224">SUBBAGIAN</tspan><tspan x="673.5" y="1232.5">KESEJAHTERA-</tspan><tspan x="673.5" y="1241">AN DAN</tspan><tspan x="673.5" y="1249.5">PERLINDUNG-</tspan><tspan x="673.5" y="1258">AN ANAK</tspan></text></g>
<g id="c8-bag-d"><rect class="bg" x="635" y="1284" width="70" height="62"/><text class="b7"><tspan x="670" y="1298">BAGIAN</tspan><tspan x="670" y="1309.5">EVALUASI,</tspan><tspan x="670" y="1321">MONITORING &amp;</tspan><tspan x="670" y="1332.5">PELAPORAN</tspan></text></g>
<g id="c8-d1"><rect class="sb" x="643" y="1365" width="61" height="60"/><text class="s"><tspan x="673.5" y="1378">SUBBAGIAN</tspan><tspan x="673.5" y="1387.5">PROGRAM</tspan><tspan x="673.5" y="1397">DAN</tspan><tspan x="673.5" y="1406.5">EVALUASI</tspan></text></g>
<g id="c8-d2"><rect class="sb" x="643" y="1437" width="61" height="60"/><text class="s"><tspan x="673.5" y="1450">SUBBAGIAN</tspan><tspan x="673.5" y="1459.5">MONITORING</tspan><tspan x="673.5" y="1469">DAN</tspan><tspan x="673.5" y="1478.5">PELAPORAN</tspan></text></g>
<g id="c8-d3"><rect class="sb" x="643" y="1506" width="61" height="60"/><text class="s"><tspan x="673.5" y="1520">SUBBAGIAN</tspan><tspan x="673.5" y="1542">TATA USAHA</tspan></text></g>

<g id="c9-bag-a"><rect class="bg" x="710" y="390" width="70" height="62"/><text class="b8"><tspan x="745" y="404">BAGIAN</tspan><tspan x="745" y="415.5">HUBUNGAN</tspan><tspan x="745" y="427">ANTAR</tspan><tspan x="745" y="438.5">LEMBAGA</tspan></text></g>
<g id="c9-a1"><rect class="sb" x="718" y="474" width="62" height="60"/><text class="s5"><tspan x="749" y="486">SUBBAGIAN</tspan><tspan x="749" y="494.5">HUBUNGAN</tspan><tspan x="749" y="503">ANTAR LEM-</tspan><tspan x="749" y="511.5">BAGA EKON</tspan><tspan x="749" y="520">DAN KESRA</tspan></text></g>
<g id="c9-a2"><rect class="sb" x="718" y="545" width="62" height="60"/><text class="s5"><tspan x="749" y="557">SUBBAGIAN</tspan><tspan x="749" y="565.5">HUBUNGAN</tspan><tspan x="749" y="574">ANTAR</tspan><tspan x="749" y="582.5">LEMBAGA</tspan><tspan x="749" y="591">POLKAM</tspan></text></g>
<g id="c9-a3"><rect class="sb" x="718" y="616" width="62" height="60"/><text class="s5"><tspan x="749" y="628">SUBBAGIAN</tspan><tspan x="749" y="636.5">PELAYANAN</tspan><tspan x="749" y="645">LEGISLATIF</tspan><tspan x="749" y="653.5">DAN</tspan><tspan x="749" y="662">EKSEKUTIF</tspan></text></g>
<g id="c9-bag-b"><rect class="bg" x="710" y="684" width="70" height="62"/><text class="b8"><tspan x="745" y="698">BAGIAN</tspan><tspan x="745" y="709.5">PROMOSI</tspan><tspan x="745" y="721">DAN</tspan><tspan x="745" y="732.5">INFORMASI</tspan></text></g>
<g id="c9-b1"><rect class="sb" x="718" y="768" width="62" height="60"/><text class="s"><tspan x="749" y="782">SUBBAGIAN</tspan><tspan x="749" y="804">PROMOSI</tspan></text></g>
<g id="c9-b2"><rect class="sb" x="718" y="840" width="62" height="60"/><text class="s"><tspan x="749" y="854">SUBBAGIAN</tspan><tspan x="749" y="876">INFORMASI</tspan></text></g>
<g id="c9-b3"><rect class="sb" x="729" y="922" width="62" height="60"/><text class="s"><tspan x="760" y="935">SUBBAGIAN</tspan><tspan x="760" y="944.5">DALAM DAN</tspan><tspan x="760" y="954">LUAR</tspan><tspan x="760" y="963.5">NEGERI</tspan></text></g>
<g id="c9-bag-c"><rect class="bg" x="721" y="998" width="70" height="62"/><text class="b7"><tspan x="756" y="1012">BAGIAN</tspan><tspan x="756" y="1023.5">PENGELOLAAN</tspan><tspan x="756" y="1035">MESS DAN</tspan><tspan x="756" y="1046.5">ANJUNGAN</tspan></text></g>
<g id="c9-c1"><rect class="sb" x="729" y="1075" width="62" height="60"/><text class="s"><tspan x="760" y="1089">SUBBAGIAN</tspan><tspan x="760" y="1100">PENGELOLA-</tspan><tspan x="760" y="1111">AN MESS</tspan></text></g>
<g id="c9-c2"><rect class="sb" x="729" y="1143" width="62" height="60"/><text class="s5"><tspan x="760" y="1157">SUBBAGIAN</tspan><tspan x="760" y="1168">PENGELOLAAN</tspan><tspan x="760" y="1179">ANJUNGAN</tspan></text></g>
<g id="c9-bag-d"><rect class="bg" x="721" y="1284" width="70" height="62"/><text class="b7"><tspan x="756" y="1298">BAGIAN</tspan><tspan x="756" y="1309.5">PROGRAM</tspan><tspan x="756" y="1321">DAN</tspan><tspan x="756" y="1332.5">PENGENDALIAN</tspan></text></g>
<g id="c9-d1"><rect class="sb" x="729" y="1365" width="62" height="60"/><text class="s"><tspan x="760" y="1378">SUBBAGIAN</tspan><tspan x="760" y="1387.5">PENYUSUN-</tspan><tspan x="760" y="1397">AN</tspan><tspan x="760" y="1406.5">PROGRAM</tspan></text></g>
<g id="c9-d2"><rect class="sb" x="729" y="1437" width="62" height="60"/><text class="s"><tspan x="760" y="1450">SUBBAGIAN</tspan><tspan x="760" y="1459.5">EVALUASI</tspan><tspan x="760" y="1469">DAN</tspan><tspan x="760" y="1478.5">PELAPORAN</tspan></text></g>
<g id="c9-d3"><rect class="sb" x="729" y="1506" width="62" height="60"/><text class="s"><tspan x="760" y="1520">SUBBAGIAN</tspan><tspan x="760" y="1542">TATA USAHA</tspan></text></g>

<g id="c10-bag-a"><rect class="bg" x="794" y="382" width="69" height="62"/><text class="b8"><tspan x="828.5" y="399">BAGIAN</tspan><tspan x="828.5" y="422">KELEMBAGAAN</tspan></text></g>
<g id="c10-a1"><rect class="sb" x="804" y="466" width="60" height="60"/><text class="s"><tspan x="834" y="479">SUBBAGIAN</tspan><tspan x="834" y="488.5">LEMBAGA</tspan><tspan x="834" y="498">DINAS</tspan><tspan x="834" y="507.5">DAERAH</tspan></text></g>
<g id="c10-a2"><rect class="sb" x="804" y="537" width="60" height="60"/><text class="s"><tspan x="834" y="550">SUBBAGIAN</tspan><tspan x="834" y="559.5">LEMBAGA</tspan><tspan x="834" y="569">TEKNIS</tspan><tspan x="834" y="578.5">DAERAH</tspan></text></g>
<g id="c10-a3"><rect class="sb" x="804" y="608" width="60" height="60"/><text class="s"><tspan x="834" y="621">SUBBAGIAN</tspan><tspan x="834" y="630.5">LEMBAGA</tspan><tspan x="834" y="640">SETDA/SET.</tspan><tspan x="834" y="649.5">DPRD</tspan></text></g>
<g id="c10-bag-b"><rect class="bg" x="794" y="676" width="69" height="62"/><text class="b8"><tspan x="828.5" y="693">BAGIAN</tspan><tspan x="828.5" y="716">TATALAKSANA</tspan></text></g>
<g id="c10-b1"><rect class="sb" x="804" y="760" width="60" height="60"/><text class="s"><tspan x="834" y="773">SUBBAGIAN</tspan><tspan x="834" y="782.5">SISTEM DAN</tspan><tspan x="834" y="792">PROSEDUR</tspan><tspan x="834" y="801.5">KERJA</tspan></text></g>
<g id="c10-b2"><rect class="sb" x="804" y="832" width="60" height="60"/><text class="s"><tspan x="834" y="846">SUBBAGIAN</tspan><tspan x="834" y="857">AKUN-</tspan><tspan x="834" y="868">TABILITAS</tspan></text></g>
<g id="c10-b3"><rect class="sb" x="824" y="914" width="60" height="60"/><text class="s"><tspan x="854" y="928">SUBBAGIAN</tspan><tspan x="854" y="939">STANDAR-</tspan><tspan x="854" y="950">ISASI</tspan></text></g>
<g id="c10-bag-c"><rect class="bg" x="814" y="990" width="69" height="62"/><text class="b8"><tspan x="848.5" y="1004">BAGIAN</tspan><tspan x="848.5" y="1015.5">ANALISA DAN</tspan><tspan x="848.5" y="1027">FORMASI</tspan><tspan x="848.5" y="1038.5">JABATAN</tspan></text></g>
<g id="c10-c1"><rect class="sb" x="824" y="1067" width="60" height="60"/><text class="s"><tspan x="854" y="1081">SUBBAGIAN</tspan><tspan x="854" y="1092">ANALISA</tspan><tspan x="854" y="1103">JABATAN</tspan></text></g>
<g id="c10-c2"><rect class="sb" x="824" y="1135" width="60" height="60"/><text class="s"><tspan x="854" y="1149">SUBBAGIAN</tspan><tspan x="854" y="1160">FORMASI</tspan><tspan x="854" y="1171">JABATAN</tspan></text></g>
<g id="c10-c3"><rect class="sb" x="824" y="1204" width="60" height="60"/><text class="s"><tspan x="854" y="1218">SUBBAGIAN</tspan><tspan x="854" y="1229">PER-</tspan><tspan x="854" y="1240">PUSTAKAAN</tspan></text></g>
<g id="c10-bag-d"><rect class="bg" x="814" y="1276" width="69" height="62"/><text class="b8"><tspan x="848.5" y="1290">BAGIAN</tspan><tspan x="848.5" y="1301.5">PEMBINAAN</tspan><tspan x="848.5" y="1313">APARATUR</tspan><tspan x="848.5" y="1324.5">SETDA</tspan></text></g>
<g id="c10-d1"><rect class="sb" x="824" y="1357" width="60" height="60"/><text class="s"><tspan x="854" y="1370">SUBBAGIAN</tspan><tspan x="854" y="1379.5">BINA</tspan><tspan x="854" y="1389">APARATUR</tspan><tspan x="854" y="1398.5">SETDA</tspan></text></g>
<g id="c10-d2"><rect class="sb" x="824" y="1429" width="60" height="60"/><text class="s"><tspan x="854" y="1442">SUBBAGIAN</tspan><tspan x="854" y="1451.5">EVALUASI</tspan><tspan x="854" y="1461">DAN</tspan><tspan x="854" y="1470.5">PELAPORAN</tspan></text></g>
<g id="c10-d3"><rect class="sb" x="824" y="1498" width="60" height="60"/><text class="s"><tspan x="854" y="1512">SUBBAGIAN</tspan><tspan x="854" y="1534">TATA USAHA</tspan></text></g>

<g id="c11-bag-a"><rect class="bg" x="880" y="382" width="69" height="62"/><text class="b"><tspan x="914.5" y="399">BAGIAN</tspan><tspan x="914.5" y="422">TATA USAHA</tspan></text></g>
<g id="c11-a1"><rect class="sb" x="890" y="466" width="60" height="60"/><text class="s"><tspan x="920" y="479">SUBBAGIAN</tspan><tspan x="920" y="488.5">TATA USAHA</tspan><tspan x="920" y="498">DAN</tspan><tspan x="920" y="507.5">ARSIP</tspan></text></g>
<g id="c11-a2"><rect class="sb" x="890" y="537" width="60" height="60"/><text class="s"><tspan x="920" y="550">SUBBAGIAN</tspan><tspan x="920" y="559.5">EVALUASI</tspan><tspan x="920" y="569">DAN</tspan><tspan x="920" y="578.5">PELAPORAN</tspan></text></g>
<g id="c11-a3"><rect class="sb" x="890" y="608" width="60" height="60"/><text class="s"><tspan x="920" y="622">SUBBAGIAN</tspan><tspan x="920" y="644">KEUANGAN</tspan></text></g>
<g id="c11-bag-b"><rect class="bg" x="880" y="676" width="69" height="62"/><text class="b7"><tspan x="914.5" y="690">BAGIAN</tspan><tspan x="914.5" y="701.5">RUMAH TANGGA</tspan><tspan x="914.5" y="713">DAN SANDI</tspan><tspan x="914.5" y="724.5">TELKOM</tspan></text></g>
<g id="c11-b1"><rect class="sb" x="890" y="760" width="60" height="60"/><text class="s"><tspan x="920" y="774">SUBBAGIAN</tspan><tspan x="920" y="785">RUMAH</tspan><tspan x="920" y="796">TANGGA</tspan></text></g>
<g id="c11-b2"><rect class="sb" x="890" y="832" width="60" height="60"/><text class="s"><tspan x="920" y="846">SUBBAGIAN</tspan><tspan x="920" y="857">PELAYANAN</tspan><tspan x="920" y="868">TELKOM</tspan></text></g>
<g id="c11-b3"><rect class="sb" x="909" y="914" width="60" height="60"/><text class="s"><tspan x="939" y="927">SUBBAGIAN</tspan><tspan x="939" y="936.5">PRASARANA</tspan><tspan x="939" y="946">SANDI DAN</tspan><tspan x="939" y="955.5">TELKOM</tspan></text></g>
<g id="c11-bag-c"><rect class="bg" x="899" y="990" width="69" height="62"/><text class="b8"><tspan x="933.5" y="1006">BAGIAN</tspan><tspan x="933.5" y="1018">HUBUNGAN</tspan><tspan x="933.5" y="1030">MASYARAKAT</tspan></text></g>
<g id="c11-c1"><rect class="sb" x="909" y="1067" width="60" height="60"/><text class="s5"><tspan x="939" y="1079">SUBBAGIAN</tspan><tspan x="939" y="1087.5">PENGUMPULAN</tspan><tspan x="939" y="1096">DAN</tspan><tspan x="939" y="1104.5">PENYEBARAN</tspan><tspan x="939" y="1113">INFORMASI</tspan></text></g>
<g id="c11-c2"><rect class="sb" x="909" y="1135" width="60" height="60"/><text class="s4"><tspan x="939" y="1148">SUBBAGIAN</tspan><tspan x="939" y="1157.5">PENERANGAN,</tspan><tspan x="939" y="1167">PUBLIKASI DAN</tspan><tspan x="939" y="1176.5">DOKUMENTASI</tspan></text></g>
<g id="c11-c3"><rect class="sb" x="909" y="1204" width="60" height="60"/><text class="s"><tspan x="939" y="1218">SUBBAGIAN</tspan><tspan x="939" y="1229">AUDIO</tspan><tspan x="939" y="1240">VISUAL</tspan></text></g>
<g id="c11-bag-d"><rect class="bg" x="899" y="1276" width="69" height="62"/><text class="b"><tspan x="933.5" y="1293">BAGIAN</tspan><tspan x="933.5" y="1316">PROTOKOL</tspan></text></g>
<g id="c11-d1"><rect class="sb" x="909" y="1357" width="60" height="60"/><text class="s"><tspan x="939" y="1370">SUBBAGIAN</tspan><tspan x="939" y="1379.5">PROTOKOL</tspan><tspan x="939" y="1389">DAN</tspan><tspan x="939" y="1398.5">ACARA</tspan></text></g>
<g id="c11-d2"><rect class="sb" x="909" y="1429" width="60" height="60"/><text class="s"><tspan x="939" y="1443">SUBBAGIAN</tspan><tspan x="939" y="1465">PERJALANAN</tspan></text></g>
<g id="c11-d3"><rect class="sb" x="909" y="1498" width="60" height="60"/><text class="s"><tspan x="939" y="1512">SUBBAGIAN</tspan><tspan x="939" y="1523">TATA USAHA</tspan><tspan x="939" y="1534">PIMPINAN</tspan></text></g>

<g id="c12-bag-a"><rect class="bg" x="966" y="382" width="72" height="62"/><text class="b8"><tspan x="1002" y="398">BAGIAN</tspan><tspan x="1002" y="410">ANALISA</tspan><tspan x="1002" y="422">KEBUTUHAN</tspan></text></g>
<g id="c12-a1"><rect class="sb" x="976" y="466" width="63" height="60"/><text class="s"><tspan x="1007.5" y="480">SUBBAGIAN</tspan><tspan x="1007.5" y="491">PENYUSUNAN</tspan><tspan x="1007.5" y="502">PROGRAM</tspan></text></g>
<g id="c12-a2"><rect class="sb" x="976" y="537" width="63" height="60"/><text class="s"><tspan x="1007.5" y="550">SUBBAGIAN</tspan><tspan x="1007.5" y="559.5">DATA</tspan><tspan x="1007.5" y="569">PROGRAM DAN</tspan><tspan x="1007.5" y="578.5">EVALUASI</tspan></text></g>
<g id="c12-a3"><rect class="sb" x="976" y="608" width="63" height="60"/><text class="s"><tspan x="1007.5" y="622">SUBBAGIAN</tspan><tspan x="1007.5" y="644">TATA USAHA</tspan></text></g>
<g id="c12-bag-b"><rect class="bg" x="966" y="676" width="72" height="62"/><text class="b8"><tspan x="1002" y="693">BAGIAN</tspan><tspan x="1002" y="716">PENGADAAN</tspan></text></g>
<g id="c12-b1"><rect class="sb" x="976" y="760" width="63" height="60"/><text class="s5"><tspan x="1007.5" y="772">SUBBAGIAN</tspan><tspan x="1007.5" y="780.5">HARGA DAN</tspan><tspan x="1007.5" y="789">SPESIFIKASI</tspan><tspan x="1007.5" y="797.5">PER-</tspan><tspan x="1007.5" y="806">LENGKAPAN</tspan></text></g>
<g id="c12-b2"><rect class="sb" x="976" y="832" width="63" height="60"/><text class="s"><tspan x="1007.5" y="846">SUBBAGIAN</tspan><tspan x="1007.5" y="868">PELELANGAN</tspan></text></g>
<g id="c12-b3"><rect class="sb" x="997" y="914" width="63" height="60"/><text class="s"><tspan x="1028.5" y="927">SUBBAGIAN</tspan><tspan x="1028.5" y="936.5">PELAKSANA-</tspan><tspan x="1028.5" y="946">AN</tspan><tspan x="1028.5" y="955.5">PENGADAAN</tspan></text></g>
<g id="c12-bag-c"><rect class="bg" x="987" y="990" width="72" height="62"/><text class="b8"><tspan x="1023" y="1004">BAGIAN</tspan><tspan x="1023" y="1015.5">PENYIMPANAN</tspan><tspan x="1023" y="1027">DAN</tspan><tspan x="1023" y="1038.5">DISTRIBUSI</tspan></text></g>
<g id="c12-c1"><rect class="sb" x="997" y="1067" width="63" height="60"/><text class="s5"><tspan x="1028.5" y="1080">SUBBAGIAN</tspan><tspan x="1028.5" y="1089.5">PENYIMPANAN</tspan><tspan x="1028.5" y="1099">DAN</tspan><tspan x="1028.5" y="1108.5">PEMANFAATAN</tspan></text></g>
<g id="c12-c2"><rect class="sb" x="997" y="1135" width="63" height="60"/><text class="s4"><tspan x="1028.5" y="1148">SUBBAGIAN</tspan><tspan x="1028.5" y="1157.5">PENGHAPUSAN</tspan><tspan x="1028.5" y="1167">DAN</tspan><tspan x="1028.5" y="1176.5">INVENTARISASI</tspan></text></g>
<g id="c12-c3"><rect class="sb" x="997" y="1204" width="63" height="60"/><text class="s"><tspan x="1028.5" y="1217">SUBBAGIAN</tspan><tspan x="1028.5" y="1226.5">DISTRIBUSI</tspan><tspan x="1028.5" y="1236">DAN</tspan><tspan x="1028.5" y="1245.5">PELAPORAN</tspan></text></g>
<g id="c12-bag-d"><rect class="bg" x="987" y="1276" width="72" height="62"/><text class="b8"><tspan x="1023" y="1292">BAGIAN</tspan><tspan x="1023" y="1304">PENGELOLA</tspan><tspan x="1023" y="1316">ASET</tspan></text></g>
<g id="c12-d1"><rect class="sb" x="997" y="1357" width="63" height="60"/><text class="s5"><tspan x="1028.5" y="1369">SUBBAGIAN</tspan><tspan x="1028.5" y="1377.5">PEMELIHARAAN</tspan><tspan x="1028.5" y="1386">DAN</tspan><tspan x="1028.5" y="1394.5">PENGAMANAN</tspan><tspan x="1028.5" y="1403">ASET</tspan></text></g>
<g id="c12-d2"><rect class="sb" x="997" y="1429" width="63" height="60"/><text class="s"><tspan x="1028.5" y="1443">SUBBAGIAN</tspan><tspan x="1028.5" y="1465">ANGKUTAN</tspan></text></g>
<g id="c12-d3"><rect class="sb" x="997" y="1498" width="63" height="60"/><text class="s5"><tspan x="1028.5" y="1512">SUBBAGIAN</tspan><tspan x="1028.5" y="1523">PENGEM-</tspan><tspan x="1028.5" y="1534">BANGAN ASET</tspan></text></g>

<g id="c13-bag-a"><rect class="bg" x="1063" y="382" width="65" height="62"/><text class="b"><tspan x="1095.5" y="399">BAGIAN</tspan><tspan x="1095.5" y="422">UMUM</tspan></text></g>
<g id="c13-a1"><rect class="sb" x="1074" y="466" width="54" height="60"/><text class="s5"><tspan x="1101" y="480">SUBBAGIAN</tspan><tspan x="1101" y="502">TATA USAHA</tspan></text></g>
<g id="c13-a2"><rect class="sb" x="1074" y="537" width="54" height="60"/><text class="s5"><tspan x="1101" y="551">SUBBAGIAN</tspan><tspan x="1101" y="562">PER-</tspan><tspan x="1101" y="573">LENGKAPAN</tspan></text></g>
<g id="c13-a3"><rect class="sb" x="1074" y="608" width="54" height="60"/><text class="s5"><tspan x="1101" y="622">SUBBAGIAN</tspan><tspan x="1101" y="633">RUMAH</tspan><tspan x="1101" y="644">TANGGA</tspan></text></g>
<g id="c13-bag-b"><rect class="bg" x="1063" y="676" width="65" height="62"/><text class="b7"><tspan x="1095.5" y="690">BAGIAN</tspan><tspan x="1095.5" y="701.5">PERSIDANGAN</tspan><tspan x="1095.5" y="713">DAN</tspan><tspan x="1095.5" y="724.5">RISALAH</tspan></text></g>
<g id="c13-b1"><rect class="sb" x="1074" y="760" width="54" height="60"/><text class="s5"><tspan x="1101" y="774">SUBBAGIAN</tspan><tspan x="1101" y="796">RISALAH</tspan></text></g>
<g id="c13-b2"><rect class="sb" x="1074" y="832" width="54" height="60"/><text class="s5"><tspan x="1101" y="846">SUBBAGIAN</tspan><tspan x="1101" y="857">PER-</tspan><tspan x="1101" y="868">SIDANGAN</tspan></text></g>
<g id="c13-b3"><rect class="sb" x="1096" y="914" width="46" height="60"/><text class="s4"><tspan x="1119" y="927">SUBBAGIAN</tspan><tspan x="1119" y="936.5">HUKUM DAN</tspan><tspan x="1119" y="946">PERUNDANG-</tspan><tspan x="1119" y="955.5">UNDANGAN</tspan></text></g>
<g id="c13-bag-c"><rect class="bg" x="1085" y="990" width="57" height="62"/><text class="b7"><tspan x="1113.5" y="1007">BAGIAN</tspan><tspan x="1113.5" y="1030">KEUANGAN</tspan></text></g>
<g id="c13-c1"><rect class="sb" x="1096" y="1067" width="46" height="60"/><text class="s4"><tspan x="1119" y="1081">SUBBAGIAN</tspan><tspan x="1119" y="1103">ANGGARAN</tspan></text></g>
<g id="c13-c2"><rect class="sb" x="1096" y="1135" width="46" height="60"/><text class="s4"><tspan x="1119" y="1148">SUBBAGIAN</tspan><tspan x="1119" y="1157.5">VERIFIKASI</tspan><tspan x="1119" y="1167">DAN</tspan><tspan x="1119" y="1176.5">PEMBUKUAN</tspan></text></g>
<g id="c13-c3"><rect class="sb" x="1096" y="1204" width="46" height="60"/><text class="s4"><tspan x="1119" y="1218">SUBBAGIAN</tspan><tspan x="1119" y="1229">PERBENDA-</tspan><tspan x="1119" y="1240">HARAAN</tspan></text></g>
<g id="c13-bag-d"><rect class="bg" x="1085" y="1276" width="57" height="62"/><text class="b6"><tspan x="1113.5" y="1289">BAGIAN</tspan><tspan x="1113.5" y="1298.5">HUBUNGAN</tspan><tspan x="1113.5" y="1308">MASYARAKAT</tspan><tspan x="1113.5" y="1317.5">DAN</tspan><tspan x="1113.5" y="1327">PROTOKOL</tspan></text></g>
<g id="c13-d1"><rect class="sb" x="1096" y="1357" width="46" height="60"/><text class="s4"><tspan x="1119" y="1369">SUBBAGIAN</tspan><tspan x="1119" y="1377.5">INFORMASI,</tspan><tspan x="1119" y="1386">DOKUMENTASI</tspan><tspan x="1119" y="1394.5">DAN</tspan><tspan x="1119" y="1403">PELAPORAN</tspan></text></g>
<g id="c13-d2"><rect class="sb" x="1096" y="1429" width="46" height="60"/><text class="s4"><tspan x="1119" y="1441">SUBBAGIAN</tspan><tspan x="1119" y="1449.5">PROTOKOL</tspan><tspan x="1119" y="1458">DAN HUB.</tspan><tspan x="1119" y="1466.5">ANTAR</tspan><tspan x="1119" y="1475">LEMBAGA</tspan></text></g>
<g id="c13-d3"><rect class="sb" x="1096" y="1498" width="46" height="60"/><text class="s4"><tspan x="1119" y="1510">SUBBAGIAN</tspan><tspan x="1119" y="1518.5">PELAYANAN</tspan><tspan x="1119" y="1527">DAN</tspan><tspan x="1119" y="1535.5">ASPIRASI</tspan><tspan x="1119" y="1544">MASYARAKAT</tspan></text></g>
</g>
</svg>
